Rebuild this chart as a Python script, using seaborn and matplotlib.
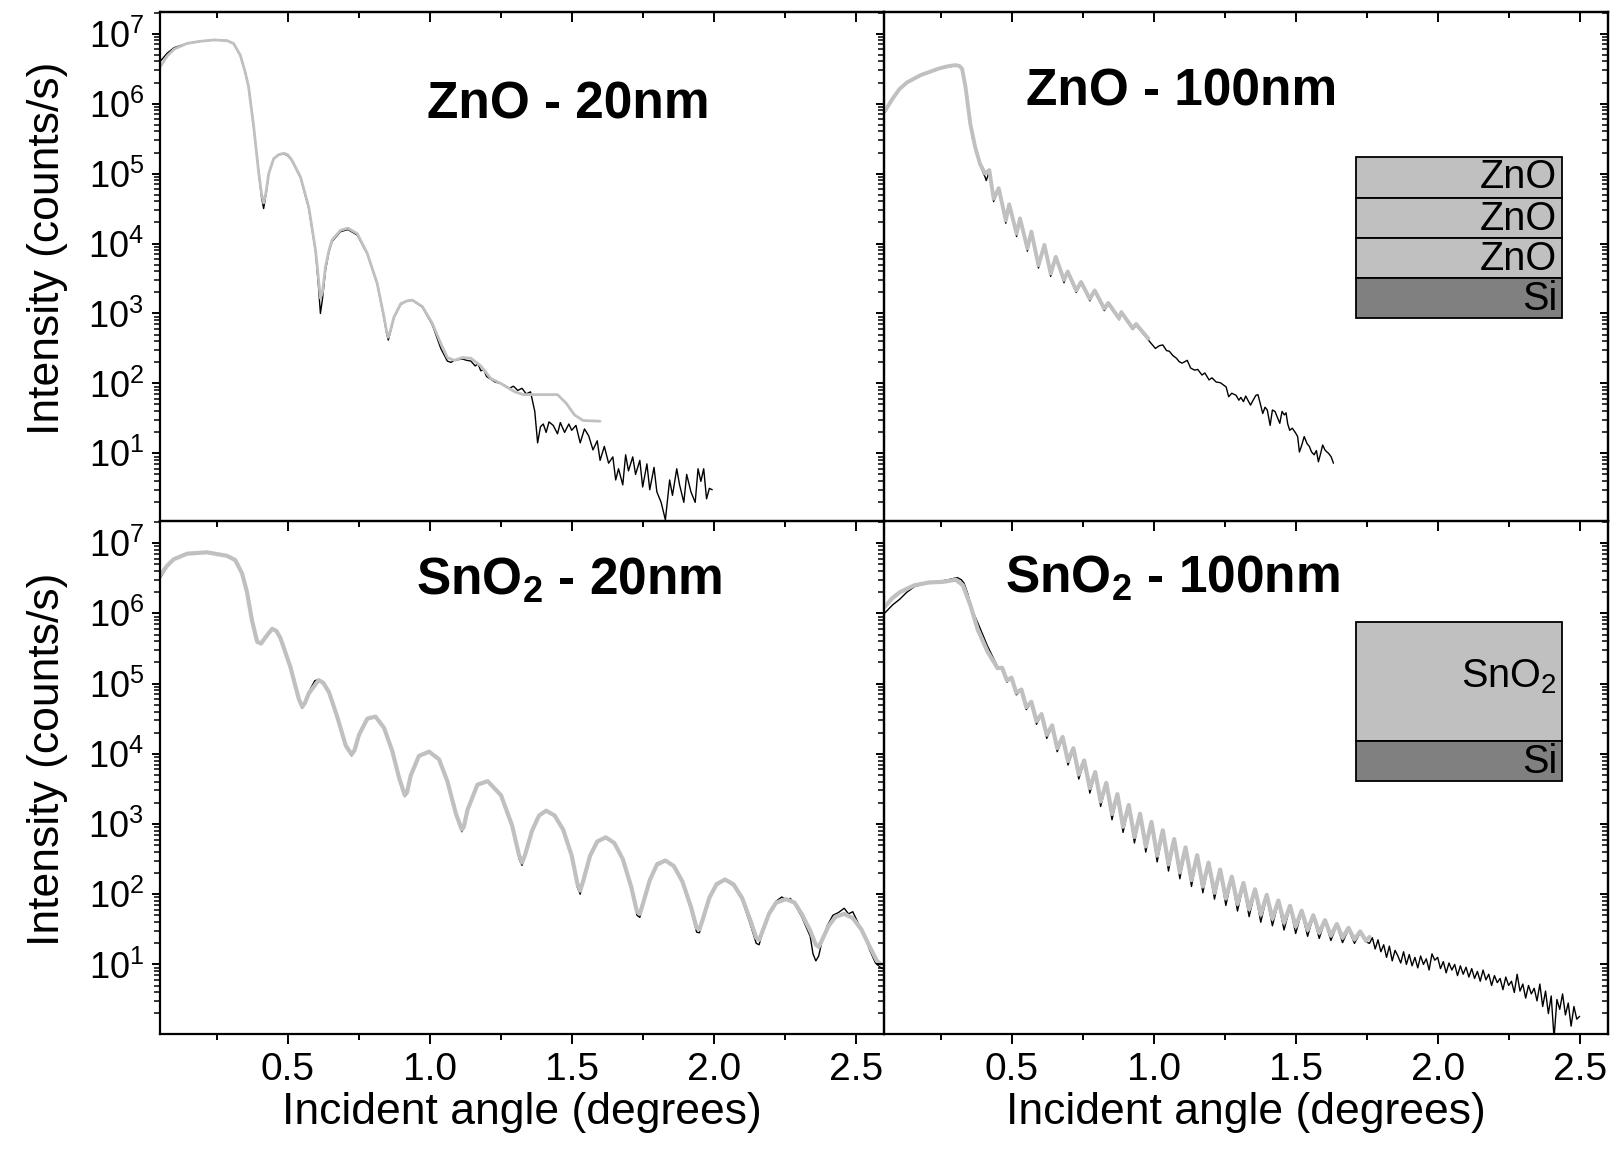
import numpy as np
import pandas as pd
import matplotlib
matplotlib.use("Agg")
import matplotlib.pyplot as plt
from matplotlib.ticker import (LogLocator, MultipleLocator, FormatStrFormatter,
                               NullFormatter, LogFormatterSciNotation, FixedLocator)
from matplotlib.patches import Rectangle
import seaborn as sns

# ---------------------------------------------------------------------------
# X-ray reflectivity data: incident angle (deg) and log10 intensity (counts/s)
# "meas" = measured curve (black), "sim" = simulated fit (grey)
# ---------------------------------------------------------------------------

# ZnO - 20 nm
zno20_meas_x = [0.05, 0.075, 0.10, 0.145, 0.19, 0.24, 0.286, 0.309, 0.333, 0.35, 0.362, 0.38, 0.398,
                0.408, 0.415, 0.423, 0.433, 0.45, 0.468, 0.486, 0.50, 0.515, 0.545, 0.574, 0.598,
                0.608, 0.615, 0.622, 0.633, 0.645, 0.656, 0.686, 0.712, 0.745, 0.78, 0.815, 0.839,
                0.848, 0.854, 0.862, 0.874, 0.898, 0.92, 0.939, 0.974, 1.009, 1.039, 1.062, 1.075,
                1.086, 1.10, 1.115, 1.13, 1.145, 1.16, 1.17, 1.18, 1.19, 1.20, 1.215, 1.23, 1.25,
                1.265, 1.28, 1.295, 1.31, 1.325, 1.34, 1.355, 1.37, 1.38, 1.39, 1.40, 1.41, 1.42,
                1.435, 1.45, 1.46, 1.475, 1.49, 1.50, 1.515, 1.53, 1.545, 1.56, 1.575, 1.59, 1.60,
                1.615, 1.63, 1.645, 1.655, 1.665, 1.68, 1.69, 1.70, 1.715, 1.725, 1.74, 1.75, 1.765,
                1.775, 1.79, 1.80, 1.815, 1.83, 1.845, 1.855, 1.87, 1.88, 1.895, 1.905, 1.92, 1.935,
                1.945, 1.955, 1.965, 1.975, 1.985, 1.995]
zno20_meas_log = [6.60, 6.72, 6.80, 6.86, 6.89, 6.91, 6.90, 6.86, 6.69, 6.45, 6.24, 5.67, 5.00,
                  4.65, 4.50, 4.70, 5.00, 5.21, 5.27, 5.28, 5.26, 5.18, 4.94, 4.50, 3.88,
                  3.40, 3.00, 3.20, 3.62, 3.88, 4.03, 4.17, 4.20, 4.12, 3.85, 3.42, 2.93,
                  2.72, 2.62, 2.74, 2.94, 3.13, 3.18, 3.19, 3.09, 2.84, 2.50, 2.32, 2.30,
                  2.33, 2.34, 2.35, 2.33, 2.32, 2.25, 2.28, 2.18, 2.20, 2.10, 2.06, 2.02, 2.00,
                  1.97, 1.93, 1.96, 1.90, 1.93, 1.85, 1.88, 1.60, 1.15, 1.38, 1.42, 1.30, 1.45,
                  1.40, 1.28, 1.44, 1.30, 1.42, 1.33, 1.40, 1.15, 1.35, 1.25, 1.05, 1.18, 0.90,
                  1.10, 0.86, 0.95, 0.62, 0.78, 0.55, 0.98, 0.75, 0.95, 0.70, 0.90, 0.52, 0.85,
                  0.48, 0.80, 0.45, 0.30, 0.05, 0.62, 0.40, 0.78, 0.55, 0.30, 0.70, 0.45, 0.30,
                  0.78, 0.60, 0.78, 0.35, 0.50, 0.48]
zno20_sim_x = [0.05, 0.075, 0.10, 0.145, 0.19, 0.24, 0.286, 0.309, 0.333, 0.35, 0.362, 0.38, 0.398,
               0.408, 0.415, 0.423, 0.433, 0.45, 0.468, 0.486, 0.50, 0.515, 0.545, 0.574, 0.598,
               0.608, 0.615, 0.622, 0.633, 0.645, 0.656, 0.686, 0.712, 0.745, 0.78, 0.815, 0.839,
               0.848, 0.854, 0.862, 0.874, 0.898, 0.92, 0.939, 0.974, 1.009, 1.039, 1.062, 1.086,
               1.115, 1.145, 1.18, 1.215, 1.25, 1.27, 1.30, 1.33, 1.38, 1.45, 1.48, 1.51, 1.54, 1.60]
zno20_sim_log = [6.52, 6.68, 6.78, 6.86, 6.89, 6.91, 6.90, 6.86, 6.69, 6.45, 6.24, 5.67, 5.00,
                 4.70, 4.58, 4.72, 5.00, 5.21, 5.27, 5.29, 5.27, 5.19, 4.95, 4.52, 3.90,
                 3.50, 3.22, 3.30, 3.67, 3.90, 4.05, 4.19, 4.22, 4.14, 3.86, 3.43, 2.95,
                 2.75, 2.66, 2.76, 2.95, 3.14, 3.18, 3.19, 3.10, 2.86, 2.57, 2.37, 2.33,
                 2.37, 2.36, 2.25, 2.07, 2.00, 1.95, 1.88, 1.84, 1.84, 1.84, 1.72, 1.55, 1.47, 1.46]

# ZnO - 100 nm
zno100_meas_x = [0.054, 0.08, 0.105, 0.13, 0.157, 0.18, 0.208, 0.242, 0.27, 0.30, 0.315, 0.325,
                 0.337, 0.354, 0.362, 0.371, 0.388, 0.406, 0.410, 0.421, 0.436, 0.454, 0.479,
                 0.491, 0.517, 0.529, 0.555, 0.569, 0.594, 0.615, 0.637, 0.655, 0.684, 0.697,
                 0.727, 0.744, 0.775, 0.792, 0.826, 0.840, 0.878, 0.886, 0.926, 0.938, 0.981,
                 1.006, 1.02, 1.032, 1.045, 1.055, 1.067, 1.08, 1.09, 1.10, 1.118, 1.13, 1.144,
                 1.155, 1.17, 1.18, 1.195, 1.205, 1.22, 1.235, 1.255, 1.264, 1.275, 1.29, 1.30,
                 1.307, 1.316, 1.324, 1.333, 1.341, 1.35, 1.36, 1.367, 1.376, 1.384, 1.392, 1.40,
                 1.41, 1.418, 1.427, 1.435, 1.444, 1.452, 1.46, 1.466, 1.472, 1.479, 1.488, 1.50,
                 1.507, 1.513, 1.52, 1.53, 1.54, 1.548, 1.556, 1.565, 1.573, 1.58, 1.588, 1.595,
                 1.603, 1.61, 1.616, 1.625, 1.633]
zno100_meas_log = [5.88, 6.05, 6.20, 6.29, 6.35, 6.40, 6.44, 6.49, 6.52, 6.54, 6.54, 6.49,
                   6.22, 5.68, 5.50, 5.40, 5.12, 4.95, 4.90, 5.03, 4.60, 4.77, 4.29,
                   4.54, 4.10, 4.34, 3.89, 4.15, 3.65, 3.96, 3.53, 3.79, 3.44, 3.58,
                   3.30, 3.43, 3.18, 3.31, 3.04, 3.13, 2.91, 3.00, 2.77, 2.83, 2.62,
                   2.50, 2.54, 2.55, 2.47, 2.46, 2.40, 2.36, 2.31, 2.29, 2.33, 2.22, 2.19,
                   2.20, 2.12, 2.15, 2.05, 2.08, 2.02, 2.01, 1.95, 1.81, 1.86, 1.83, 1.76,
                   1.80, 1.74, 1.82, 1.75, 1.69, 1.76, 1.83, 1.84, 1.70, 1.57, 1.66, 1.62,
                   1.40, 1.62, 1.60, 1.52, 1.43, 1.60, 1.55, 1.58, 1.42, 1.33, 1.36, 1.29,
                   1.24, 1.02, 1.10, 1.24, 1.14, 1.10, 1.02, 0.98, 1.04, 0.88, 1.00, 1.12,
                   1.05, 1.02, 1.00, 0.95, 0.86]
zno100_sim_x = [0.054, 0.08, 0.105, 0.13, 0.157, 0.18, 0.208, 0.242, 0.27, 0.30, 0.315, 0.325,
                0.337, 0.354, 0.371, 0.388, 0.406, 0.421, 0.436, 0.454, 0.479, 0.491, 0.517,
                0.529, 0.555, 0.569, 0.594, 0.615, 0.637, 0.655, 0.684, 0.697, 0.727, 0.744,
                0.775, 0.792, 0.826, 0.840, 0.878, 0.886, 0.926, 0.938, 0.981]
zno100_sim_log = [5.90, 6.07, 6.21, 6.30, 6.36, 6.41, 6.45, 6.50, 6.53, 6.55, 6.54, 6.50,
                  6.24, 5.71, 5.38, 5.14, 5.00, 5.05, 4.64, 4.79, 4.33, 4.56, 4.14,
                  4.36, 3.93, 4.17, 3.69, 3.98, 3.57, 3.81, 3.48, 3.60, 3.33, 3.45,
                  3.21, 3.33, 3.07, 3.15, 2.93, 3.02, 2.79, 2.85, 2.64]

# SnO2 - 20 nm
sno20_meas_x = [0.05, 0.075, 0.098, 0.145, 0.215, 0.286, 0.315, 0.339, 0.356, 0.374, 0.392, 0.406,
                0.42, 0.445, 0.46, 0.474, 0.509, 0.539, 0.551, 0.56, 0.574, 0.595, 0.609, 0.625,
                0.645, 0.674, 0.704, 0.725, 0.735, 0.751, 0.78, 0.809, 0.839, 0.868, 0.892, 0.912,
                0.92, 0.933, 0.962, 0.998, 1.033, 1.062, 1.092, 1.113, 1.12, 1.133, 1.168, 1.204,
                1.251, 1.29, 1.315, 1.325, 1.335, 1.36, 1.385, 1.41, 1.44, 1.47, 1.50, 1.52, 1.53,
                1.54, 1.565, 1.59, 1.62, 1.65, 1.68, 1.71, 1.73, 1.74, 1.75, 1.775, 1.80, 1.83,
                1.86, 1.89, 1.92, 1.94, 1.95, 1.96, 1.985, 2.01, 2.04, 2.07, 2.10, 2.13, 2.15,
                2.16, 2.17, 2.195, 2.22, 2.24, 2.255, 2.27, 2.285, 2.31, 2.34, 2.35, 2.36, 2.37,
                2.38, 2.40, 2.42, 2.44, 2.46, 2.475, 2.49, 2.51, 2.53, 2.55, 2.57, 2.59, 2.61]
sno20_meas_log = [6.50, 6.66, 6.76, 6.85, 6.87, 6.82, 6.75, 6.55, 6.29, 5.88, 5.58, 5.56,
                  5.64, 5.78, 5.76, 5.66, 5.22, 4.76, 4.65, 4.72, 4.88, 5.04, 5.06, 5.01,
                  4.87, 4.51, 4.10, 3.97, 4.04, 4.28, 4.51, 4.53, 4.36, 4.02, 3.63, 3.39,
                  3.44, 3.69, 3.98, 4.03, 3.91, 3.59, 3.12, 2.89, 2.95, 3.19, 3.55, 3.61,
                  3.40, 2.96, 2.50, 2.41, 2.53, 2.90, 3.12, 3.19, 3.13, 2.93, 2.53, 2.10, 2.00,
                  2.16, 2.55, 2.76, 2.81, 2.74, 2.49, 2.06, 1.70, 1.67, 1.83, 2.20, 2.44, 2.49,
                  2.41, 2.16, 1.78, 1.46, 1.45, 1.60, 1.96, 2.16, 2.20, 2.12, 1.92, 1.56, 1.30,
                  1.28, 1.42, 1.74, 1.90, 1.96, 1.92, 1.94, 1.86, 1.68, 1.40, 1.15, 1.05, 1.12,
                  1.30, 1.55, 1.70, 1.74, 1.80, 1.72, 1.75, 1.58, 1.42, 1.20, 1.02, 0.95, 0.92]
sno20_sim_x = [0.05, 0.075, 0.098, 0.145, 0.215, 0.286, 0.315, 0.339, 0.356, 0.374, 0.392, 0.406,
               0.42, 0.445, 0.46, 0.474, 0.509, 0.539, 0.551, 0.56, 0.574, 0.609, 0.625, 0.645,
               0.674, 0.704, 0.725, 0.735, 0.751, 0.78, 0.809, 0.839, 0.868, 0.892, 0.912, 0.92,
               0.933, 0.962, 0.998, 1.033, 1.062, 1.092, 1.113, 1.12, 1.133, 1.168, 1.204, 1.251,
               1.29, 1.315, 1.325, 1.335, 1.36, 1.385, 1.41, 1.44, 1.47, 1.50, 1.52, 1.53, 1.54,
               1.565, 1.59, 1.62, 1.65, 1.68, 1.71, 1.73, 1.74, 1.75, 1.775, 1.80, 1.83, 1.86,
               1.89, 1.92, 1.94, 1.95, 1.96, 1.985, 2.01, 2.04, 2.07, 2.10, 2.13, 2.15, 2.16,
               2.17, 2.195, 2.22, 2.255, 2.285, 2.31, 2.34, 2.36, 2.37, 2.38, 2.405, 2.43, 2.46,
               2.49, 2.52, 2.55, 2.575, 2.59]
sno20_sim_log = [6.54, 6.68, 6.77, 6.85, 6.87, 6.82, 6.76, 6.57, 6.31, 5.90, 5.60, 5.57,
                 5.65, 5.78, 5.75, 5.65, 5.24, 4.78, 4.67, 4.72, 4.86, 5.05, 5.01, 4.88,
                 4.53, 4.12, 3.99, 4.05, 4.27, 4.50, 4.53, 4.37, 4.04, 3.66, 3.41, 3.45,
                 3.69, 3.97, 4.03, 3.92, 3.61, 3.15, 2.92, 2.96, 3.20, 3.56, 3.61, 3.41,
                 2.98, 2.55, 2.45, 2.55, 2.90, 3.12, 3.19, 3.12, 2.92, 2.55, 2.15, 2.05, 2.18,
                 2.55, 2.75, 2.81, 2.73, 2.50, 2.10, 1.75, 1.72, 1.85, 2.20, 2.42, 2.48, 2.40,
                 2.18, 1.82, 1.52, 1.50, 1.62, 1.95, 2.14, 2.21, 2.14, 1.95, 1.62, 1.38, 1.35,
                 1.45, 1.72, 1.88, 1.93, 1.88, 1.72, 1.48, 1.28, 1.25, 1.33, 1.55, 1.68, 1.72,
                 1.66, 1.50, 1.25, 1.05, 1.00]

# SnO2 - 100 nm
sno100_meas_x = [0.054, 0.08, 0.105, 0.13, 0.157, 0.208, 0.25, 0.277, 0.308, 0.322, 0.332, 0.345,
                 0.36, 0.38, 0.414, 0.45, 0.466, 0.483, 0.499, 0.516, 0.534, 0.551, 0.569, 0.587,
                 0.605, 0.623, 0.642, 0.660, 0.679, 0.698, 0.717, 0.736, 0.755, 0.775, 0.794,
                 0.813, 0.833, 0.853, 0.872, 0.892, 0.912, 0.932, 0.952, 0.972, 0.992, 1.012,
                 1.032, 1.052, 1.072, 1.092, 1.112, 1.133, 1.153, 1.173, 1.193, 1.214, 1.234,
                 1.254, 1.275, 1.295, 1.316, 1.336, 1.357, 1.377, 1.398, 1.418, 1.439, 1.459,
                 1.480, 1.500, 1.521, 1.542, 1.562, 1.583, 1.603, 1.624, 1.645, 1.665, 1.686,
                 1.707, 1.727, 1.748, 1.76, 1.77, 1.78, 1.79, 1.80, 1.81, 1.82, 1.83, 1.84, 1.85,
                 1.86, 1.87, 1.88, 1.89, 1.90, 1.91, 1.92, 1.93, 1.94, 1.95, 1.96, 1.97, 1.98,
                 1.99, 2.00, 2.01, 2.02, 2.03, 2.04, 2.05, 2.06, 2.07, 2.08, 2.09, 2.10, 2.11,
                 2.12, 2.13, 2.14, 2.15, 2.16, 2.17, 2.18, 2.19, 2.20, 2.21, 2.22, 2.23, 2.24,
                 2.25, 2.26, 2.27, 2.28, 2.29, 2.30, 2.31, 2.32, 2.33, 2.34, 2.35, 2.36, 2.37,
                 2.38, 2.39, 2.40, 2.41, 2.42, 2.43, 2.44, 2.45, 2.46, 2.47, 2.48, 2.49, 2.50]
sno100_meas_log = [6.01, 6.12, 6.20, 6.30, 6.38, 6.44, 6.46, 6.48, 6.51, 6.48, 6.43, 6.28,
                   6.05, 5.87, 5.54, 5.24, 5.23, 5.02, 5.08, 4.84, 4.91, 4.63, 4.73, 4.42,
                   4.56, 4.22, 4.39, 4.03, 4.22, 3.84, 4.06, 3.64, 3.89, 3.44, 3.72,
                   3.25, 3.57, 3.06, 3.41, 2.88, 3.25, 2.73, 3.13, 2.60, 3.01, 2.46,
                   2.89, 2.33, 2.77, 2.22, 2.65, 2.11, 2.54, 2.02, 2.43, 1.93, 2.33,
                   1.84, 2.23, 1.76, 2.14, 1.68, 2.05, 1.60, 1.97, 1.55, 1.89, 1.49,
                   1.82, 1.44, 1.75, 1.40, 1.69, 1.37, 1.62, 1.34, 1.56, 1.31, 1.50,
                   1.30, 1.45, 1.32, 1.30, 1.38, 1.22, 1.35, 1.18, 1.28, 1.10, 1.26, 1.05, 1.20,
                   1.12, 1.02, 1.18, 1.00, 1.14, 0.98, 1.10, 0.95, 1.12, 1.00, 1.08, 0.92, 1.15,
                   1.06, 1.10, 0.94, 1.04, 0.88, 1.02, 0.92, 1.00, 0.84, 0.98, 0.86, 0.96, 0.82,
                   0.94, 0.80, 0.90, 0.76, 0.92, 0.78, 0.86, 0.70, 0.84, 0.74, 0.80, 0.64, 0.82,
                   0.70, 0.76, 0.60, 0.86, 0.62, 0.72, 0.52, 0.70, 0.58, 0.66, 0.48, 0.72, 0.40,
                   0.62, 0.30, 0.55, -0.05, 0.50, 0.36, 0.58, 0.28, 0.45, 0.12, 0.40, 0.22, 0.26]
sno100_sim_x = [0.054, 0.08, 0.105, 0.157, 0.208, 0.26, 0.303, 0.328, 0.354, 0.38, 0.414, 0.45,
                0.466, 0.483, 0.499, 0.516, 0.534, 0.551, 0.569, 0.587, 0.605, 0.623, 0.642,
                0.660, 0.679, 0.698, 0.717, 0.736, 0.755, 0.775, 0.794, 0.813, 0.833, 0.853,
                0.872, 0.892, 0.912, 0.932, 0.952, 0.972, 0.992, 1.012, 1.032, 1.052, 1.072,
                1.092, 1.112, 1.133, 1.153, 1.173, 1.193, 1.214, 1.234, 1.254, 1.275, 1.295,
                1.316, 1.336, 1.357, 1.377, 1.398, 1.418, 1.439, 1.459, 1.480, 1.500, 1.521,
                1.542, 1.562, 1.583, 1.603, 1.624, 1.645, 1.665, 1.686, 1.707, 1.727, 1.748, 1.76]
sno100_sim_log = [6.10, 6.22, 6.30, 6.40, 6.44, 6.45, 6.48, 6.40, 6.12, 5.77, 5.46, 5.22,
                  5.225, 5.045, 5.085, 4.87, 4.915, 4.665, 4.74, 4.465, 4.565, 4.27, 4.405,
                  4.08, 4.24, 3.895, 4.08, 3.705, 3.905, 3.51, 3.74, 3.32, 3.585, 3.14,
                  3.425, 2.96, 3.27, 2.815, 3.145, 2.68, 3.03, 2.55, 2.91, 2.425, 2.785,
                  2.31, 2.665, 2.20, 2.555, 2.11, 2.45, 2.02, 2.35, 1.94, 2.25, 1.86,
                  2.16, 1.785, 2.07, 1.71, 1.99, 1.65, 1.91, 1.595, 1.835, 1.54, 1.765,
                  1.49, 1.70, 1.45, 1.63, 1.41, 1.575, 1.38, 1.52, 1.355, 1.47, 1.335, 1.39]

panel_titles = ["ZnO - 20nm", "ZnO - 100nm", "SnO$_{2}$ - 20nm", "SnO$_{2}$ - 100nm"]
x_label = "Incident angle (degrees)"
y_label = "Intensity (counts/s)"
zno_stack = ["ZnO", "ZnO", "ZnO", "Si"]
sno_stack = ["SnO$_{2}$", "Si"]

# ---------------------------------------------------------------------------
sns.set_theme(style="ticks")
plt.rcParams["font.family"] = ["Liberation Sans", "DejaVu Sans"]
plt.rcParams["mathtext.fontset"] = "custom"
plt.rcParams["mathtext.rm"] = "Liberation Sans"
plt.rcParams["mathtext.bf"] = "Liberation Sans:bold"
plt.rcParams["mathtext.default"] = "regular"
for key in ("text.color", "axes.labelcolor", "xtick.color", "ytick.color", "axes.edgecolor"):
    plt.rcParams[key] = "black"

BLACK = "#000000"
GREY = "#c0c0c0"
LIGHT = "#c0c0c0"
DARK = "#808080"
SPINE_W = 1.6
TICK_W = 1.4
YTICK_FS = 26
XTICK_FS = 28
LABEL_FS = 32

fig = plt.figure(figsize=(16.15, 11.51), dpi=100)
W, H = 1615.0, 1151.0
xl, xm, xr = 160 / W, 884 / W, 1608 / W
yt, ym, yb = 1 - 12 / H, 1 - 521 / H, 1 - 1034 / H

ax_ul = fig.add_axes([xl, ym, xm - xl, yt - ym])
ax_ur = fig.add_axes([xm, ym, xr - xm, yt - ym])
ax_ll = fig.add_axes([xl, yb, xm - xl, ym - yb])
ax_lr = fig.add_axes([xm, yb, xr - xm, ym - yb])

upper_ylim = (1.08, 2.04e7)
lower_ylim = (1.02, 2.07e7)


def draw_curve(ax, x, logy, color, lw):
    df = pd.DataFrame({"angle": x, "intensity": np.power(10.0, np.asarray(logy))})
    sns.lineplot(data=df, x="angle", y="intensity", ax=ax, color=color, linewidth=lw,
                 estimator=None, sort=False, solid_joinstyle="round", solid_capstyle="round")


def style_axes(ax, ylim, left_labels, bottom_labels, top_ticks, right_ticks):
    ax.patch.set_visible(False)
    ax.set_yscale("log")
    ax.set_xlim(0.05, 2.6)
    ax.set_ylim(*ylim)
    ax.set_xlabel("")
    ax.set_ylabel("")
    for s in ax.spines.values():
        s.set_visible(True)
        s.set_linewidth(SPINE_W)
        s.set_color("black")
    ax.xaxis.set_major_locator(MultipleLocator(0.5))
    ax.xaxis.set_minor_locator(MultipleLocator(0.25))
    ax.xaxis.set_major_formatter(FormatStrFormatter("%.1f"))
    ax.yaxis.set_major_locator(FixedLocator([1e1, 1e2, 1e3, 1e4, 1e5, 1e6, 1e7]))
    ax.yaxis.set_minor_locator(LogLocator(base=10, subs=np.arange(2, 10), numticks=30))
    ax.yaxis.set_major_formatter(LogFormatterSciNotation())
    ax.yaxis.set_minor_formatter(NullFormatter())
    ax.tick_params(axis="x", which="major", direction="out", length=7, width=TICK_W,
                   labelsize=XTICK_FS, pad=6, bottom=True, top=False, labelbottom=bottom_labels,
                   colors="black")
    ax.tick_params(axis="x", which="minor", direction="out", length=4.5, width=TICK_W,
                   bottom=True, top=False)
    ax.tick_params(axis="y", which="major", direction="out", length=5.5, width=TICK_W,
                   labelsize=YTICK_FS, pad=6, left=True, right=False, labelleft=left_labels,
                   colors="black")
    ax.tick_params(axis="y", which="minor", direction="out", length=4, width=1.1,
                   left=True, right=False)
    if top_ticks:
        sec = ax.secondary_xaxis("top")
        sec.xaxis.set_major_locator(MultipleLocator(0.5))
        sec.xaxis.set_minor_locator(MultipleLocator(0.25))
        sec.tick_params(axis="x", which="major", direction="in", length=7, width=TICK_W,
                        labeltop=False)
        sec.tick_params(axis="x", which="minor", direction="in", length=4.5, width=TICK_W)
        sec.spines["top"].set_linewidth(SPINE_W)
    if right_ticks:
        sec = ax.secondary_yaxis("right")
        sec.yaxis.set_major_locator(FixedLocator([1e1, 1e2, 1e3, 1e4, 1e5, 1e6, 1e7]))
        sec.yaxis.set_minor_locator(LogLocator(base=10, subs=np.arange(2, 10), numticks=30))
        sec.yaxis.set_minor_formatter(NullFormatter())
        sec.tick_params(axis="y", which="major", direction="in", length=5.5, width=TICK_W,
                        labelright=False)
        sec.tick_params(axis="y", which="minor", direction="in", length=4, width=1.1,
                        labelright=False)
        sec.spines["right"].set_linewidth(SPINE_W)


# curves: measured first, simulation drawn over it
draw_curve(ax_ul, zno20_meas_x, zno20_meas_log, BLACK, 1.0)
draw_curve(ax_ul, zno20_sim_x, zno20_sim_log, GREY, 2.0)
draw_curve(ax_ur, zno100_meas_x, zno100_meas_log, BLACK, 1.0)
draw_curve(ax_ur, zno100_sim_x, zno100_sim_log, GREY, 2.8)
draw_curve(ax_ll, sno20_meas_x, sno20_meas_log, BLACK, 1.0)
draw_curve(ax_ll, sno20_sim_x, sno20_sim_log, GREY, 3.0)
draw_curve(ax_lr, sno100_meas_x, sno100_meas_log, BLACK, 1.0)
draw_curve(ax_lr, sno100_sim_x, sno100_sim_log, GREY, 3.0)

style_axes(ax_ul, upper_ylim, True, False, True, False)
style_axes(ax_ur, upper_ylim, False, False, True, True)
style_axes(ax_ll, lower_ylim, True, True, False, False)
style_axes(ax_lr, lower_ylim, False, True, False, True)

for ax in (ax_ul, ax_ll):
    ax.set_ylabel(y_label, fontsize=LABEL_FS, color="black")
    ax.yaxis.set_label_coords(-0.127, 0.535)
for ax in (ax_ll, ax_lr):
    ax.set_xlabel(x_label, fontsize=LABEL_FS, labelpad=3, color="black")

# panel titles
title_pos = [(ax_ul, 0.5635, 0.790), (ax_ur, 0.4116, 0.817),
             (ax_ll, 0.5650, 0.856), (ax_lr, 0.3990, 0.860)]
for (ax, tx, ty), title in zip(title_pos, panel_titles):
    ax.text(tx, ty, title, transform=ax.transAxes, ha="center", va="baseline",
            fontsize=37, fontweight="bold", color="black")

# layer-stack sketches
bx0, bx1 = 0.652, 0.9365
zno_edges = [0.715, 0.6346, 0.556, 0.4774, 0.3988]
zno_colors = [LIGHT, LIGHT, LIGHT, DARK]
zno_base = [0.654, 0.572, 0.493, 0.4145]
for i, (name, col) in enumerate(zip(zno_stack, zno_colors)):
    top, bot = zno_edges[i], zno_edges[i + 1]
    ax_ur.add_patch(Rectangle((bx0, bot), bx1 - bx0, top - bot, transform=ax_ur.transAxes,
                              facecolor=col, edgecolor="black", linewidth=1.3, zorder=5))
    ax_ur.text(0.9296, zno_base[i], name, transform=ax_ur.transAxes, ha="right",
               va="baseline", fontsize=28.5, color="black", zorder=6)

sno_edges = [0.803, 0.571, 0.493]
sno_colors = [LIGHT, DARK]
sno_base = [0.676, 0.509]
for i, (name, col) in enumerate(zip(sno_stack, sno_colors)):
    top, bot = sno_edges[i], sno_edges[i + 1]
    ax_lr.add_patch(Rectangle((bx0, bot), bx1 - bx0, top - bot, transform=ax_lr.transAxes,
                              facecolor=col, edgecolor="black", linewidth=1.3, zorder=5))
    ax_lr.text(0.9296, sno_base[i], name, transform=ax_lr.transAxes, ha="right",
               va="baseline", fontsize=28.5, color="black", zorder=6)

fig.savefig("out.png", dpi=100, facecolor="white")
